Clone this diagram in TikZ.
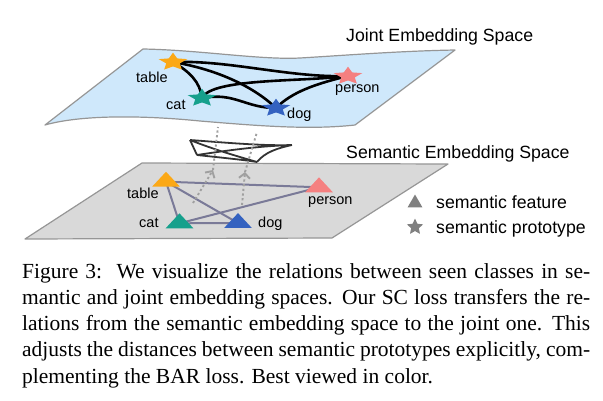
\documentclass[tikz,border=0pt]{standalone}
\usepackage{fontspec}
\setmainfont{Liberation Serif}
\newfontfamily\sanslabel{Liberation Sans}
\usetikzlibrary{shapes.geometric,arrows.meta}
\definecolor{jointblue}{RGB}{207,232,251}
\definecolor{semgray}{RGB}{217,217,217}
\definecolor{rimgray}{RGB}{150,150,150}
\definecolor{ctable}{RGB}{251,168,22}
\definecolor{cperson}{RGB}{245,128,128}
\definecolor{ccat}{RGB}{22,160,140}
\definecolor{cdog}{RGB}{52,98,192}
\definecolor{linkgray}{RGB}{122,122,152}
\definecolor{arrowgray}{RGB}{160,160,160}
\definecolor{legendgray}{RGB}{128,128,128}
\tikzset{
	proto/.style={star,star points=5,star point ratio=2.1,minimum size=30pt,inner sep=0pt,fill=#1},
	feat/.style={regular polygon,regular polygon sides=3,minimum size=32pt,inner sep=0pt,fill=#1},
	flat/.style={yscale=0.62},
	lbl/.style={font=\sanslabel\fontsize{14.5}{16}\selectfont,inner sep=0pt,anchor=base west},
	spacename/.style={font=\sanslabel\fontsize{17.7}{20}\selectfont,inner sep=0pt,anchor=base west},
	bond/.style={line width=2.6pt,black},
	link/.style={line width=2pt,linkgray},
	flow/.style={line width=1.9pt,arrowgray,dash pattern=on 2.2pt off 2.5pt},
	twist/.style={line width=1.8pt,black!80},
}
\begin{document}
\begin{tikzpicture}[x=1pt,y=-1pt,line join=round]
	\useasboundingbox (0,0) rectangle (603,400);
	\path
	(173,62) coordinate (jtable)
	(348,76) coordinate (jperson)
	(202,98) coordinate (jcat)
	(276,108) coordinate (jdog)
	(166,181.7) coordinate (stable)
	(319,187.3) coordinate (sperson)
	(179.5,223.3) coordinate (scat)
	(238,223) coordinate (sdog)
	(190,140) coordinate (w1)
	(292,145) coordinate (w2)
	(257,162) coordinate (w3)
	(197,155) coordinate (w4)
	(193,203) coordinate (a1s)
	(213,170) coordinate (a1m)
	(218,127) coordinate (a1e)
	(242,205) coordinate (a2s)
	(245,172) coordinate (a2m)
	(257,132) coordinate (a2e)
	;
	% semantic space
	\draw[rimgray,fill=semgray,line width=1.2pt] (142,163)--(448,164)--(332,238)--(25,239)--cycle;
	\foreach \a/\b in {table/person,table/cat,table/dog,cat/person,cat/dog}
	\draw[link] (s\a)--(s\b);
	\foreach \n/\c in {table/ctable,person/cperson,cat/ccat,dog/cdog}
	\node[feat=\c,flat] (sf\n) at (s\n) {};
	\foreach \n/\px/\py in {table/127/198,person/308/204,cat/139/227,dog/258/227}
	\node[lbl] (sl\n) at (\px,\py) {\n};
	% joint space
	\draw[rimgray,fill=jointblue,line width=1.2pt] (143,49) .. controls (200,50) and (260,60) .. (300,58)
	.. controls (350,55) and (400,51) .. (455,50) -- (355,125)
	.. controls (310,130) and (260,126) .. (200,121)
	.. controls (140,115) and (80,115) .. (45,125) -- cycle;
	\draw[bond] (jtable) .. controls (230,60) and (290,78) .. (jperson);
	\draw[bond] (jtable) .. controls (220,70) and (255,88) .. (jdog);
	\draw[bond] (jtable) .. controls (190,72) and (200,82) .. (jcat);
	\draw[bond] (jcat) .. controls (212,78) and (300,82) .. (jperson);
	\draw[bond] (jcat) .. controls (235,92) and (245,108) .. (jdog);
	\draw[bond] (jdog) .. controls (292,92) and (315,84) .. (jperson);
	\foreach \n/\c in {table/ctable,person/cperson,cat/ccat,dog/cdog}
	\node[proto=\c,flat] (js\n) at (j\n) {};
	\foreach \n/\px/\py in {table/136/82,person/335/92,cat/166/109,dog/287/118}
	\node[lbl] (jl\n) at (\px,\py) {\n};
	% transfer
	\draw[twist] (w1)--(w4)
	(w1) .. controls (230,143) and (265,146) .. (w2)
	(w4) .. controls (230,150) and (260,146) .. (w2)
	(w1) .. controls (215,150) and (240,157) .. (w3)
	(w3) .. controls (265,152) and (278,148) .. (w2)
	(w4) .. controls (225,158) and (245,160) .. (w3);
	\draw[flow,-{Straight Barb[length=5pt,width=11pt]}] (a1s)--(a1m);
	\draw[flow] (a1m)--(a1e);
	\draw[flow,-{Straight Barb[length=5pt,width=11pt]}] (a2s)--(a2m);
	\draw[flow] (a2m)--(a2e);
	\node[spacename] (jname) at (346,41) {Joint Embedding Space};
	\node[spacename] (sname) at (346,158) {Semantic Embedding Space};
	% legend
	\node[feat=legendgray,minimum size=17pt] (lfeat) at (415,203) {};
	\node[proto=legendgray,minimum size=17pt] (lproto) at (415,227) {};
	\node[spacename] (lfeattext) at (436,208) {semantic feature};
	\node[spacename] (lprototext) at (436,233) {semantic prototype};
	% caption
	\node[anchor=north west,inner sep=0pt,text width=568pt,align=justify,font=\fontsize{21.5}{26.25}\selectfont] (caption) at (22,263)
	{Figure 3:\ \ We visualize the relations between seen classes in se-\linebreak mantic and joint embedding spaces. Our SC loss transfers the re-\linebreak lations from the semantic embedding space to the joint one. This\linebreak adjusts the distances between semantic prototypes explicitly, com-\linebreak plementing the BAR loss. Best viewed in color.};
\end{tikzpicture}
\end{document}
